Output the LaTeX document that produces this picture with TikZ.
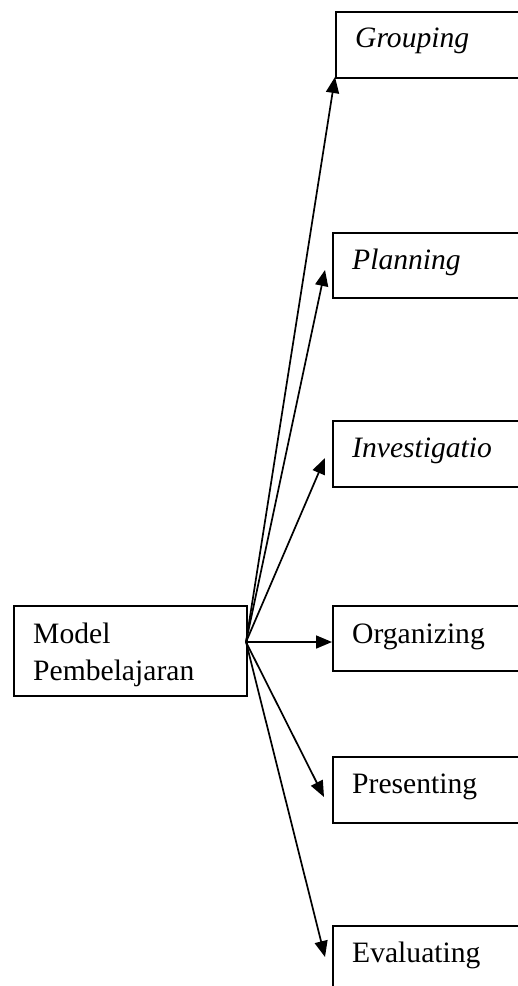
\documentclass[tikz,border=0pt]{standalone}
\usepackage{fontspec}
\setmainfont{Liberation Serif}
\usetikzlibrary{arrows.meta}
\begin{document}
\begin{tikzpicture}[x=1pt,y=-1pt,
  box/.style={draw=black,line width=1.9pt,rectangle,inner sep=0pt,anchor=north west},
  lbl/.style={anchor=base west,inner sep=0pt,font=\fontsize{29.6}{35}\selectfont},
  conn/.style={line width=1.7pt,-{Triangle[length=16pt,width=13pt]}}]
\clip (0,0) rectangle (518,986);
\fill[white] (0,0) rectangle (518,986);
% source box
\node[box,minimum width=233pt,minimum height=90pt] (m) at (13,605) {};
\node[lbl] (mt1) at (33,643) {Model};
\node[lbl] (mt2) at (33,680) {Pembelajaran};
\coordinate (o) at (246,642);
% target boxes
\node[box,minimum width=220pt,minimum height=66pt] (g) at (335,11) {};
\node[lbl] (gt) at (355,47) {\itshape Grouping};
\node[box,minimum width=220pt,minimum height=65pt] (p) at (332,232) {};
\node[lbl] (pt) at (352,269) {\itshape Planning};
\node[box,minimum width=220pt,minimum height=66pt] (i) at (332,420) {};
\node[lbl] (it) at (352,457) {\itshape Investigatio};
\node[box,minimum width=220pt,minimum height=65pt] (r) at (332,605) {};
\node[lbl] (rt) at (352,643) {Organizing};
\node[box,minimum width=220pt,minimum height=66pt] (s) at (332,756) {};
\node[lbl] (st) at (352,793) {Presenting};
\node[box,minimum width=220pt,minimum height=90pt] (e) at (332,925) {};
\node[lbl] (et) at (352,962) {Evaluating};
% arrow tips
\coordinate (tg) at (335,77);
\coordinate (tp) at (325,270);
\coordinate (ti) at (325,458);
\coordinate (tr) at (332,642);
\coordinate (ts) at (324,797);
\coordinate (te) at (325,957);
\draw[conn] (o) -- (tg);
\draw[conn] (o) -- (tp);
\draw[conn] (o) -- (ti);
\draw[conn] (o) -- (tr);
\draw[conn] (o) -- (ts);
\draw[conn] (o) -- (te);
\end{tikzpicture}
\end{document}
